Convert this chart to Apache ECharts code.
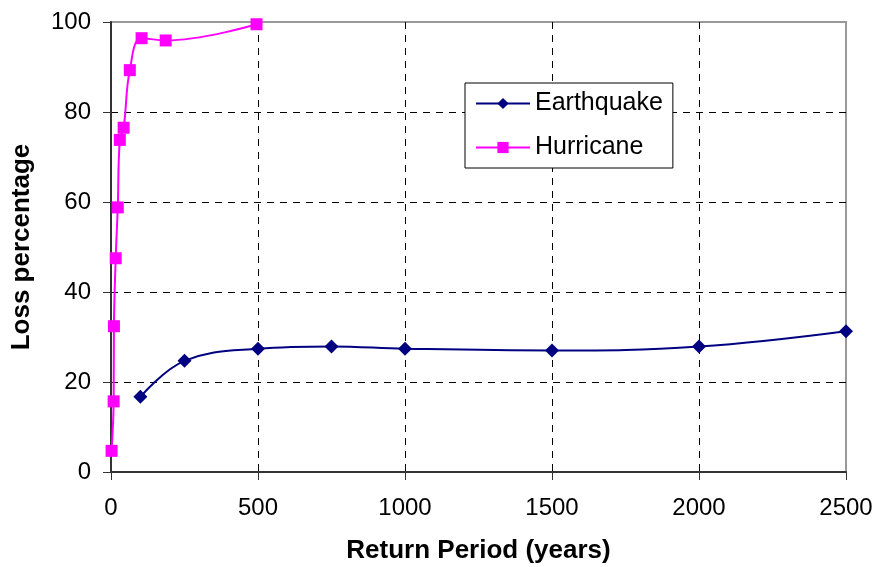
<!DOCTYPE html>
<html>
<head>
<meta charset="utf-8">
<script src="https://cdn.jsdelivr.net/npm/echarts@6/dist/echarts.min.js"></script>
<style>html,body{margin:0;padding:0;background:#fff}#c{width:876px;height:567px}</style>
</head>
<body>
<div id="c"></div>
<script>
const earthquakeX = [100, 250, 500, 750, 1000, 1500, 2000, 2500];
const earthquakeY = [16.7, 24.7, 27.4, 27.9, 27.4, 27.0, 27.9, 31.3];
const hurricaneX = [2, 9, 10, 16, 23, 30, 43, 64, 104, 186, 495];
const hurricaneY = [4.7, 15.7, 32.4, 47.5, 58.8, 73.8, 76.5, 89.3, 96.4, 95.9, 99.5];
const xTicks = [0, 500, 1000, 1500, 2000, 2500];
const yTicks = [0, 20, 40, 60, 80, 100];

const FONT = '"Liberation Sans", Arial, sans-serif';
const chart = echarts.init(document.getElementById('c'));
chart.setOption({
  animation: false,
  backgroundColor: '#fff',
  textStyle: { fontFamily: FONT },
  grid: { left: 111, right: 30, top: 22, bottom: 95, outerBoundsMode: 'none', containLabel: false, show: true, borderColor: '#999', borderWidth: 2, backgroundColor: 'transparent' },
  legend: {
    left: 465, top: 83,
    orient: 'vertical',
    backgroundColor: '#fff',
    borderColor: '#000', borderWidth: 1,
    padding: [8, 10, 8, 10],
    itemWidth: 54, itemHeight: 14, itemGap: 19,
    textStyle: { fontFamily: FONT, fontSize: 25, color: '#000' },
    data: ['Earthquake', 'Hurricane']
  },
  xAxis: {
    type: 'value', min: xTicks[0], max: xTicks[xTicks.length - 1], interval: 500,
    name: 'Return Period (years)', nameLocation: 'middle', nameGap: 66,
    nameTextStyle: { fontFamily: FONT, fontSize: 26, fontWeight: 'bold', color: '#000' },
    axisLine: { show: true, onZero: false, lineStyle: { color: '#333', width: 2 } },
    axisTick: { show: true, length: 8, lineStyle: { color: '#333', width: 1 } },
    axisLabel: { fontFamily: FONT, fontSize: 24, color: '#000', margin: 24, formatter: v => String(v) },
    splitLine: { show: true, showMinLine: false, showMaxLine: false, lineStyle: { color: '#000', type: [7, 6], width: 1 } }
  },
  yAxis: {
    type: 'value', min: yTicks[0], max: yTicks[yTicks.length - 1], interval: 20,
    name: 'Loss percentage', nameLocation: 'middle', nameGap: 76,
    nameTextStyle: { fontFamily: FONT, fontSize: 26, fontWeight: 'bold', color: '#000' },
    axisLine: { show: true, lineStyle: { color: '#333', width: 2 } },
    axisTick: { show: true, length: 8, lineStyle: { color: '#333', width: 1 } },
    axisLabel: { fontFamily: FONT, fontSize: 24, color: '#000', margin: 20 },
    splitLine: { show: true, showMinLine: false, showMaxLine: false, lineStyle: { color: '#000', type: [7, 6], width: 1 } }
  },
  series: [
    {
      name: 'Earthquake', type: 'line', smooth: 0.4,
      data: earthquakeX.map((x, i) => [x, earthquakeY[i]]),
      symbol: 'diamond', symbolSize: 14,
      itemStyle: { color: '#000080' },
      lineStyle: { color: '#000080', width: 2 }
    },
    {
      name: 'Hurricane', type: 'line', smooth: 0.4,
      data: hurricaneX.map((x, i) => [x, hurricaneY[i]]),
      symbol: 'rect', symbolSize: 12,
      itemStyle: { color: '#FF00FF' },
      lineStyle: { color: '#FF00FF', width: 2 }
    }
  ]
});
</script>
</body>
</html>
